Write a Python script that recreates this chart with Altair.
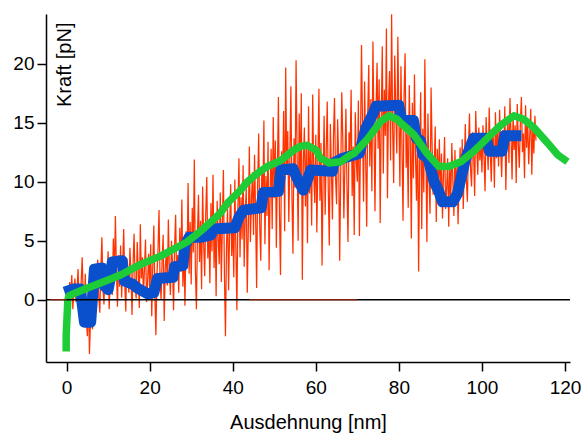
import altair as alt
import pandas as pd

FONT = "Liberation Sans"
RED = "#ff3300"
BLUE = "#0a50cc"
GREEN = "#1ecc38"

# Red raw trace, sampled every 0.25 nm starting at 0 nm
red_step = 0.25
red_y = [
    0.2, 0.8, -0.4, 1.5, 0.3, 2.1, -0.8, 0.9, 1.8, -0.2, 0.6, 2.6, 0.1, -1.2, 1.4, 3.6, 0.4, -0.9, 2.2, -1.6,
    -3.1, 0.7, -4.6, -1.8, 1.2, -2.5, 0.3, 2.8, -0.6, 1.9, 3.4, 0.2, -1.1, 2.6, 5.3, 1.0, -0.4, 3.1, 0.8, 2.2,
    4.1, -0.8, 1.7, 3.3, 0.4, 5.2, 1.9, 7.1, 2.4, -0.6, 3.8, 1.1, 4.6, 0.2, 2.9, 6.0, 1.4, -1.0, 3.5, 2.0,
    0.6, 4.4, 2.2, -1.3, 3.0, 5.6, 1.2, 0.1, 4.9, 2.5, -0.7, 6.4, 1.8, 3.6, 0.3, 2.7, 5.1, -0.2, 1.5, 3.9,
    1.0, 4.7, -1.4, 2.9, 6.3, 0.5, -3.0, 2.1, 4.2, 7.6, 1.6, 0.0, 3.4, 5.5, -1.8, 2.6, 4.0, 1.2, 6.8, 2.3,
    0.4, 5.0, 3.1, -0.9, 4.5, 7.2, 1.7, 3.8, 0.6, 6.1, 2.4, 8.5, 1.1, 4.3, -0.5, 5.8, 3.0, 9.9, 2.2, 6.6,
    1.3, 7.8, 4.0, 11.9, 2.6, -0.8, 5.4, 8.9, 3.2, 6.7, 0.9, 9.6, 4.8, 2.0, 7.3, 10.4, 3.5, 5.9, 1.4, 8.2,
    4.1, 10.6, 2.7, 6.8, 0.3, 8.4, 5.2, 3.0, 9.1, 1.5, 6.3, 11.0, 2.1, -3.1, 4.6, 7.7, 0.8, 5.9, 9.8, 3.7,
    6.5, 1.9, 10.2, 4.4, -0.9, 7.9, 12.0, 3.6, 8.7, 5.1, 11.4, 2.8, 7.0, 9.5, 0.6, 6.1, 13.0, 4.9, 8.3, 10.8,
    5.5, 12.3, 7.4, 1.0, 9.8, 14.1, 6.2, 3.3, 11.2, 8.0, 15.2, 4.7, 10.5, 7.1, 13.4, 2.5, 9.1, 12.8, 6.0, 15.5,
    8.6, 13.5, 4.4, 11.0, 17.2, 7.3, 2.1, 12.6, 9.4, 16.0, 5.8, 19.7, 10.9, 14.3, 6.6, 12.0, 18.1, 8.8, 3.9, 13.7,
    9.5, 20.3, 12.2, 5.0, 15.8, 10.1, 17.5, 1.7, 11.6, 14.6, 7.9, 13.1, 4.8, 16.4, 9.0, 12.7, 6.3, 17.4, 10.6, 8.2,
    14.0, 5.7, 11.9, 17.9, 8.4, 13.3, 2.9, 10.2, 15.6, 7.2, 12.5, 16.8, 9.3, 4.6, 14.9, 11.1, 6.8, 13.8, 17.1, 10.4,
    8.1, 15.3, 12.0, 3.3, 10.8, 17.6, 13.6, 6.9, 11.4, 16.2, 9.7, 4.9, 14.2, 12.3, 17.8, 8.8, 13.0, 5.5, 15.9, 11.7,
    10.0, 16.9, 5.4, 13.2, 21.6, 14.8, 8.3, 18.5, 12.1, 6.2, 15.7, 19.9, 11.3, 17.0, 9.2, 21.9, 14.4, 7.5, 16.3, 20.1,
    12.8, 18.7, 6.5, 15.1, 21.5, 10.7, 17.8, 13.9, 23.0, 8.6, 16.6, 19.4, 11.8, 24.2, 14.6, 9.9, 20.7, 16.0, 12.4, 22.3,
    15.4, 9.6, 19.8, 12.9, 6.7, 17.3, 20.9, 11.2, 14.1, 7.8, 18.2, 13.5, 5.2, 16.7, 10.3, 19.1, 12.2, 8.4, 15.0, 2.4,
    11.7, 17.6, 6.0, 14.5, 9.1, 20.4, 12.6, 4.9, 15.8, 10.4, 7.3, 18.0, 13.1, 8.9, 11.0, 14.7, 6.6, 12.8, 9.5, 13.6,
    8.0, 12.4, 6.9, 10.7, 13.8, 7.7, 9.4, 12.0, 6.2, 11.3, 8.6, 13.3, 10.0, 7.1, 12.7, 9.0, 11.6, 6.4, 10.3, 12.9,
    9.2, 13.6, 7.7, 11.5, 14.9, 10.1, 8.3, 13.0, 15.8, 11.1, 9.6, 14.2, 12.3, 8.8, 16.0, 12.9, 10.6, 14.6, 11.8, 13.4,
    10.8, 14.8, 12.1, 9.2, 15.5, 13.2, 11.0, 16.3, 12.6, 10.0, 14.3, 13.7, 9.5, 15.9, 12.0, 14.5, 11.3, 16.1, 13.0, 10.4,
    14.4, 12.2, 16.4, 9.3, 13.6, 15.2, 11.6, 17.1, 13.9, 10.2, 15.7, 12.7, 14.8, 9.9, 16.6, 13.3, 11.2, 15.0, 17.2, 12.5,
    14.1, 10.3, 16.5, 12.9, 15.4, 11.5, 13.8, 16.2, 10.6, 14.7, 12.4, 15.6, 13.5,
]
red_x = [round(red_step * i, 2) for i in range(len(red_y))]

# Red baseline pieces lying on the zero line
red_base_x = [-4.0, 0.0, None, 44.0, 70.0]
red_base_y = [0.0, 0.0, None, 0.0, 0.0]

# Blue stepped fit
blue_x = [-0.5, 1.5, 3.3, 3.8, 4.3, 5.8, 6.3, 6.7, 8.5, 9.0, 10.0, 10.6, 11.0, 13.4, 13.9, 16.0, 17.0,
          19.5, 21.0, 21.9, 25.6, 26.0, 28.0, 28.5, 29.5, 31.5, 32.5, 34.8, 35.3, 40.5, 41.5, 42.6, 46.8,
          47.4, 51.0, 51.6, 54.5, 55.5, 57.0, 58.0, 58.8, 64.0, 64.3, 66.5, 70.5, 72.0, 73.8, 74.5, 80.0,
          80.6, 83.5, 84.2, 85.2, 85.8, 87.0, 88.5, 89.6, 90.5, 93.0, 94.1, 96.0, 98.0, 101.0, 101.8, 104.8,
          105.5, 109.5]
blue_y = [0.65, 0.9, 0.9, -0.5, -1.9, -1.9, 0.5, 2.6, 2.7, 1.2, 0.85, 2.0, 3.2, 3.3, 1.6, 1.3, 1.0,
          0.5, 0.6, 1.8, 1.9, 2.8, 2.9, 4.6, 5.3, 5.3, 5.3, 5.5, 6.0, 6.1, 7.0, 7.6, 7.8,
          9.1, 9.2, 11.0, 11.1, 10.3, 9.3, 10.2, 11.0, 10.9, 11.6, 12.0, 12.4, 14.5, 15.8, 16.4, 16.5,
          15.3, 15.2, 13.7, 13.5, 12.3, 12.0, 10.0, 9.2, 8.3, 8.3, 9.0, 11.9, 13.7, 13.7, 12.6, 12.6,
          13.9, 13.9]

# Green smooth model curve
green_x = [-0.1, -0.1, 0.1, 0.3, 0.6, 5.0, 8.0, 13.0, 17.8, 22.6, 29.0, 32.2, 35.4, 37.0, 39.0, 41.9,
           43.5, 45.9, 48.3, 51.5, 54.7, 56.3, 57.9, 59.5, 60.3, 61.1, 62.7, 63.1, 66.0, 68.4, 69.2, 72.4,
           75.6, 77.6, 79.6, 80.4, 83.6, 86.8, 89.6, 92.0, 94.9, 98.1, 101.3, 104.5, 107.7, 110.1, 112.5,
           115.8, 118.2, 120.6]
green_y = [-4.4, -3.0, -1.5, 0.0, 0.35, 1.0, 1.4, 2.1, 3.0, 3.7, 4.9, 5.8, 6.8, 7.35, 8.3, 9.3,
           10.0, 10.7, 11.3, 11.8, 12.7, 13.0, 13.1, 12.8, 12.6, 12.0, 11.7, 11.6, 11.7, 12.3, 12.4, 13.6,
           15.1, 15.6, 15.3, 15.0, 14.0, 12.4, 11.3, 11.3, 11.7, 12.6, 13.7, 14.8, 15.6, 15.3, 14.6,
           13.3, 12.3, 11.7]

x_ticks = [0, 20, 40, 60, 80, 100, 120]
y_ticks = [0, 5, 10, 15, 20]
zero_level = [0.0]

df_red = pd.DataFrame({"x": red_x, "y": red_y, "i": range(len(red_y))})
df_red_base = pd.DataFrame({"x": red_base_x, "y": red_base_y, "i": range(len(red_base_x))})
df_blue = pd.DataFrame({"x": blue_x, "y": blue_y, "i": range(len(blue_y))})
df_green = pd.DataFrame({"x": green_x, "y": green_y, "i": range(len(green_y))})
df_zero = pd.DataFrame({"y": zero_level})

xs = alt.Scale(domain=[-4.96, 121.2], nice=False, zero=False)
ys = alt.Scale(domain=[-5.28, 24.23], nice=False, zero=False)

xaxis = alt.Axis(
    values=x_ticks, title="Ausdehnung [nm]", grid=False,
    domainColor="black", domainWidth=1.5, tickColor="black", tickWidth=1.5, tickSize=9,
    labelFont=FONT, labelFontSize=19, labelColor="black", labelPadding=7, labelFlush=False,
    titleFont=FONT, titleFontSize=20, titleFontWeight="normal", titleColor="black",
    titleY=66, titleBaseline="alphabetic",
)
yaxis = alt.Axis(
    values=y_ticks, title="Kraft  [pN]", grid=False,
    domainColor="black", domainWidth=1.5, tickColor="black", tickWidth=1.5, tickSize=9,
    labelFont=FONT, labelFontSize=19, labelColor="black", labelPadding=3, labelFlush=False,
    titleFont=FONT, titleFontSize=20, titleFontWeight="normal", titleColor="black",
    titleAngle=270, titleX=24, titleY=8, titleAlign="right", titleBaseline="alphabetic",
)

X = alt.X("x:Q", scale=xs, axis=xaxis)
Y = alt.Y("y:Q", scale=ys, axis=yaxis)

red = alt.Chart(df_red).mark_line(color=RED, strokeWidth=1.25, clip=True).encode(x=X, y=Y, order="i:Q")
blue = alt.Chart(df_blue).mark_line(color=BLUE, strokeWidth=11, strokeJoin="round", clip=True).encode(
    x=X, y=Y, order="i:Q")
green = alt.Chart(df_green).mark_line(color=GREEN, strokeWidth=7.5, strokeJoin="round", clip=True).encode(
    x=X, y=Y, order="i:Q")
zero = alt.Chart(df_zero).mark_rule(color="black", strokeWidth=1.5).encode(y=Y)
red_base = alt.Chart(df_red_base).mark_line(color="#b02a10", strokeWidth=1).encode(x=X, y=Y, order="i:Q")

chart = alt.layer(red, blue, green, zero, red_base).properties(
    width=524, height=348,
    padding={"left": 46, "top": 14, "right": 17, "bottom": 73},
    autosize=alt.AutoSizeParams(type="none"),
    background="white",
).configure_view(stroke=None)

chart.save("out.html", embed_options={"renderer": "svg", "actions": False})
